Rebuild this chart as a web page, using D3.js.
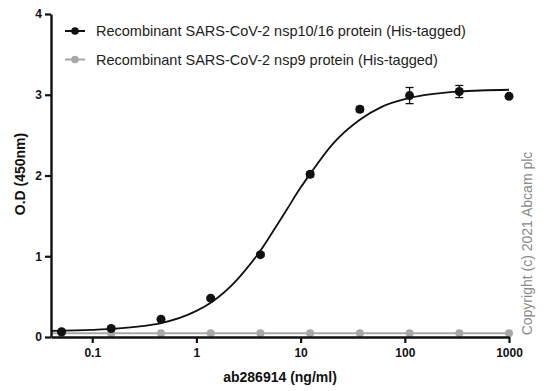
<!DOCTYPE html>
<html><head><meta charset="utf-8">
<script src="https://cdn.jsdelivr.net/npm/d3@7"></script>
<style>body{margin:0;background:#fff}svg{display:block}</style>
</head><body>
<script>
// concentrations (ng/ml), 3-fold dilutions
const conc = [0.0508, 0.152, 0.457, 1.372, 4.115, 12.35, 37.04, 111.1, 333.3, 1000];
const nsp1016 = [0.065, 0.105, 0.22, 0.48, 1.02, 2.015, 2.82, 2.99, 3.04, 2.98];
const nsp1016Err = [0.01, 0.01, 0.02, 0.02, 0.02, 0.03, 0.03, 0.1, 0.075, 0.02];
const nsp9 = [0.045, 0.045, 0.045, 0.045, 0.045, 0.045, 0.045, 0.045, 0.045, 0.045];
// fitted curve
const fitX = [0.0402, 0.1, 0.3, 0.457, 1.0, 1.372, 2.5, 3.0, 4.115, 5.5, 7.3, 10, 12.35, 20, 37, 60, 111, 333, 1000];
const fitY = [0.075, 0.087, 0.134, 0.172, 0.323, 0.425, 0.72, 0.84, 1.07, 1.32, 1.57, 1.85, 2.02, 2.38, 2.69, 2.85, 2.96, 3.04, 3.062];
const xTicks = [0.1, 1, 10, 100, 1000];
const yTicks = [0, 1, 2, 3, 4];
const legendLabels = ["Recombinant SARS-CoV-2 nsp10/16 protein (His-tagged)", "Recombinant SARS-CoV-2 nsp9 protein (His-tagged)"];

const W = 553, H = 391;
const svg = d3.select("body").append("svg").attr("width", W).attr("height", H);
const x = d3.scaleLog().domain([0.0402, 1000]).range([51, 509]);
const y = d3.scaleLinear().domain([0, 4]).range([337, 14]);
const black = "#111", gray = "#a8a8a8";
const font = "Arial, 'Liberation Sans', sans-serif";

// gray series line + points
svg.append("path")
  .attr("d", d3.line().x(d => x(d[0])).y(d => y(d[1]))([[0.0402, nsp9[0]], [1000, nsp9[nsp9.length - 1]]]))
  .attr("stroke", gray).attr("stroke-width", 2).attr("fill", "none");
svg.selectAll(".g").data(conc.map((c, i) => [c, nsp9[i]])).enter().append("circle")
  .attr("cx", d => x(d[0])).attr("cy", d => y(d[1])).attr("r", 4).attr("fill", gray);

// axes
const xAxis = svg.append("g").attr("transform", `translate(0,${y(0)})`)
  .call(d3.axisBottom(x).tickValues(xTicks).tickFormat(d => String(d)).tickSize(6).tickSizeOuter(0).tickPadding(5));
const yAxis = svg.append("g").attr("transform", `translate(${x(0.0402)},0)`)
  .call(d3.axisLeft(y).tickValues(yTicks).tickFormat(d3.format("d")).tickSize(6).tickSizeOuter(0).tickPadding(3));
[xAxis, yAxis].forEach(a => {
  a.select(".domain").attr("stroke", black).attr("stroke-width", 2.4);
  a.selectAll(".tick line").attr("stroke", black).attr("stroke-width", 2.2);
  a.selectAll(".tick text").attr("fill", "#111").attr("font-family", font).attr("font-weight", "bold").attr("font-size", 12);
});

// fitted curve
svg.append("path")
  .attr("d", d3.line().x(d => x(d[0])).y(d => y(d[1])).curve(d3.curveMonotoneX)(fitX.map((v, i) => [v, fitY[i]])))
  .attr("stroke", black).attr("stroke-width", 1.8).attr("fill", "none");

// error bars
const eb = svg.append("g").attr("stroke", black).attr("stroke-width", 1.3);
conc.forEach((c, i) => {
  const cx = x(c), t = y(nsp1016[i] + nsp1016Err[i]), b = y(nsp1016[i] - nsp1016Err[i]);
  eb.append("line").attr("x1", cx).attr("x2", cx).attr("y1", t).attr("y2", b);
  eb.append("line").attr("x1", cx - 4).attr("x2", cx + 4).attr("y1", t).attr("y2", t);
  eb.append("line").attr("x1", cx - 4).attr("x2", cx + 4).attr("y1", b).attr("y2", b);
});
svg.selectAll(".b").data(conc.map((c, i) => [c, nsp1016[i]])).enter().append("circle")
  .attr("cx", d => x(d[0])).attr("cy", d => y(d[1])).attr("r", 4.5).attr("fill", black);

// legend
const legColors = [black, gray];
legendLabels.forEach((lab, i) => {
  const ly = 31 + i * 28.5;
  svg.append("line").attr("x1", 65).attr("x2", 85).attr("y1", ly).attr("y2", ly)
    .attr("stroke", legColors[i]).attr("stroke-width", 2);
  svg.append("circle").attr("cx", 75).attr("cy", ly).attr("r", 3.8).attr("fill", legColors[i]);
  svg.append("text").attr("x", 96).attr("y", ly + 5).text(lab)
    .attr("font-family", font).attr("font-size", 14.5).attr("fill", "#222");
});

// axis titles
svg.append("text").attr("x", 280).attr("y", 382).attr("text-anchor", "middle")
  .attr("font-family", font).attr("font-weight", "bold").attr("font-size", 14).attr("fill", "#111")
  .text("ab286914 (ng/ml)");
svg.append("text").attr("transform", "translate(25,174) rotate(-90)").attr("text-anchor", "middle")
  .attr("font-family", font).attr("font-weight", "bold").attr("font-size", 14).attr("fill", "#111")
  .text("O.D (450nm)");
svg.append("text").attr("transform", "translate(532,243.5) rotate(-90)").attr("text-anchor", "middle")
  .attr("font-family", font).attr("font-size", 14).attr("fill", "#8a8a8a")
  .text("Copyright (c) 2021 Abcam plc");
</script>
</body></html>
